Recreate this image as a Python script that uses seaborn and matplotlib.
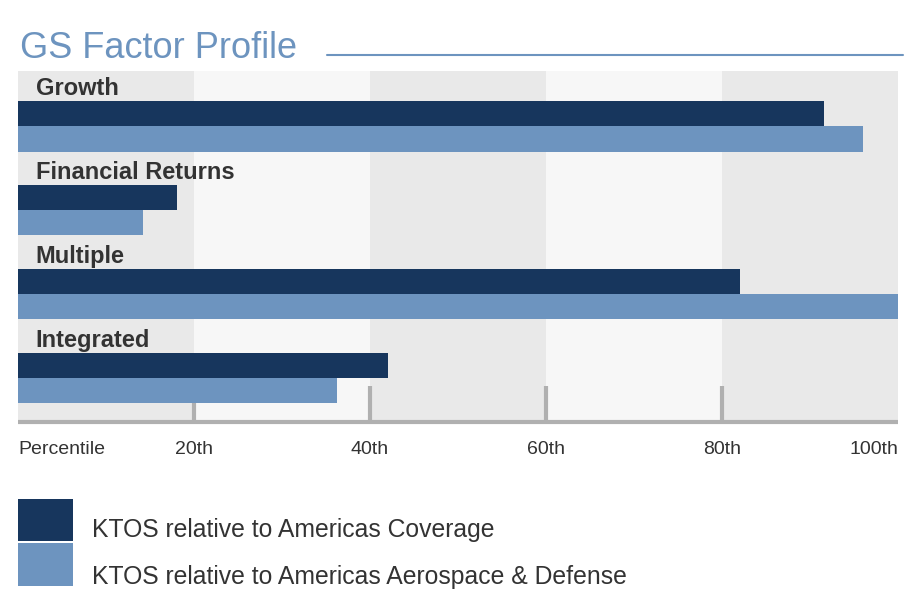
import matplotlib
matplotlib.use("Agg")
import matplotlib.pyplot as plt
from matplotlib.lines import Line2D
from matplotlib.patches import Rectangle
import seaborn as sns
import pandas as pd

# ---- data ----
categories = ["Growth", "Financial Returns", "Multiple", "Integrated"]
series_names = ["KTOS relative to Americas Coverage",
                "KTOS relative to Americas Aerospace & Defense"]
coverage_vals = [91.6, 18.1, 82.0, 42.1]
aero_def_vals = [96.0, 14.2, 100.0, 36.2]
tick_values = [20, 40, 60, 80]
tick_labels = ["20th", "40th", "60th", "80th"]
end_values = [0, 100]
end_labels = ["Percentile", "100th"]

DARK = "#17365d"
LIGHT = "#6d94bf"
GRAY_BAND = "#e9e9e9"
LIGHT_BAND = "#f7f7f7"
AXIS_GRAY = "#b0b0b0"
TEXT = "#333333"
series_colors = [DARK, LIGHT]

df = pd.DataFrame({
    "category": categories * 2,
    "series": [series_names[0]] * 4 + [series_names[1]] * 4,
    "value": coverage_vals + aero_def_vals,
})

sns.set_theme(style="white")
plt.rcParams["font.family"] = ["Liberation Sans", "DejaVu Sans"]

W, H = 921, 601
fig = plt.figure(figsize=(W / 100, H / 100), dpi=100)
ax = fig.add_axes([18 / W, 1 - 422 / H, 880 / W, (422 - 71) / H])

# background bands
for i, start in enumerate(range(0, 100, 20)):
    ax.axvspan(start, start + 20, color=GRAY_BAND if i % 2 == 0 else LIGHT_BAND,
               lw=0, zorder=0)

sns.barplot(data=df, y="category", x="value", hue="series", order=categories,
            hue_order=series_names, palette=series_colors, orient="h",
            width=0.6, gap=0, saturation=1, dodge=True, ax=ax, zorder=2,
            legend=False, linewidth=0)

ax.set_xlim(0.46, 100)
ax.set_ylim(3.525, -0.662)
ax.set_xlabel("")
ax.set_ylabel("")
ax.set_yticks([])

# category labels above bars
for i, cat in enumerate(categories):
    ax.text(2.0, i - 0.3 - 0.07, cat, fontsize=17, fontweight="bold",
            color=TEXT, va="baseline", ha="left", zorder=3)

# axis styling
for s in ["top", "left", "right"]:
    ax.spines[s].set_visible(False)
ax.spines["bottom"].set_color(AXIS_GRAY)
ax.spines["bottom"].set_linewidth(3)
ax.spines["bottom"].set_capstyle("butt")
ax.spines["bottom"].set_zorder(4)

ax.set_xticks(tick_values)
ax.set_xticklabels(tick_labels)
ax.tick_params(axis="x", which="major", bottom=True, direction="in", length=26,
               width=3, color=AXIS_GRAY, pad=14, labelsize=14, labelcolor=TEXT)
ax.set_xticks(end_values, minor=True)
ax.set_xticklabels(end_labels, minor=True)
ax.tick_params(axis="x", which="minor", bottom=True, direction="in", length=0,
               pad=14, labelsize=14, labelcolor=TEXT)
for lab in ax.get_xticklabels(minor=True):
    lab.set_ha("left" if lab.get_text() == "Percentile" else "right")

# title and underline
fig.text(20 / W, 1 - 58 / H, "GS Factor Profile", fontsize=26,
         color=LIGHT, va="baseline", ha="left")
fig.add_artist(Line2D([327 / W, 903 / W], [1 - 55 / H, 1 - 55 / H],
                      color=LIGHT, lw=1.5, transform=fig.transFigure))

# legend (swatches + labels)
swatch_tops = [499, 543]
swatch_heights = [42, 43]
text_baselines = [537, 584]
for name, col, top, h, base in zip(series_names, series_colors, swatch_tops,
                                   swatch_heights, text_baselines):
    fig.add_artist(Rectangle((18 / W, 1 - (top + h) / H), 55 / W, h / H,
                             facecolor=col, edgecolor="none",
                             transform=fig.transFigure))
    fig.text(92 / W, 1 - base / H, name, fontsize=17.8, color=TEXT,
             va="baseline", ha="left")

fig.savefig("out.png", dpi=100)
